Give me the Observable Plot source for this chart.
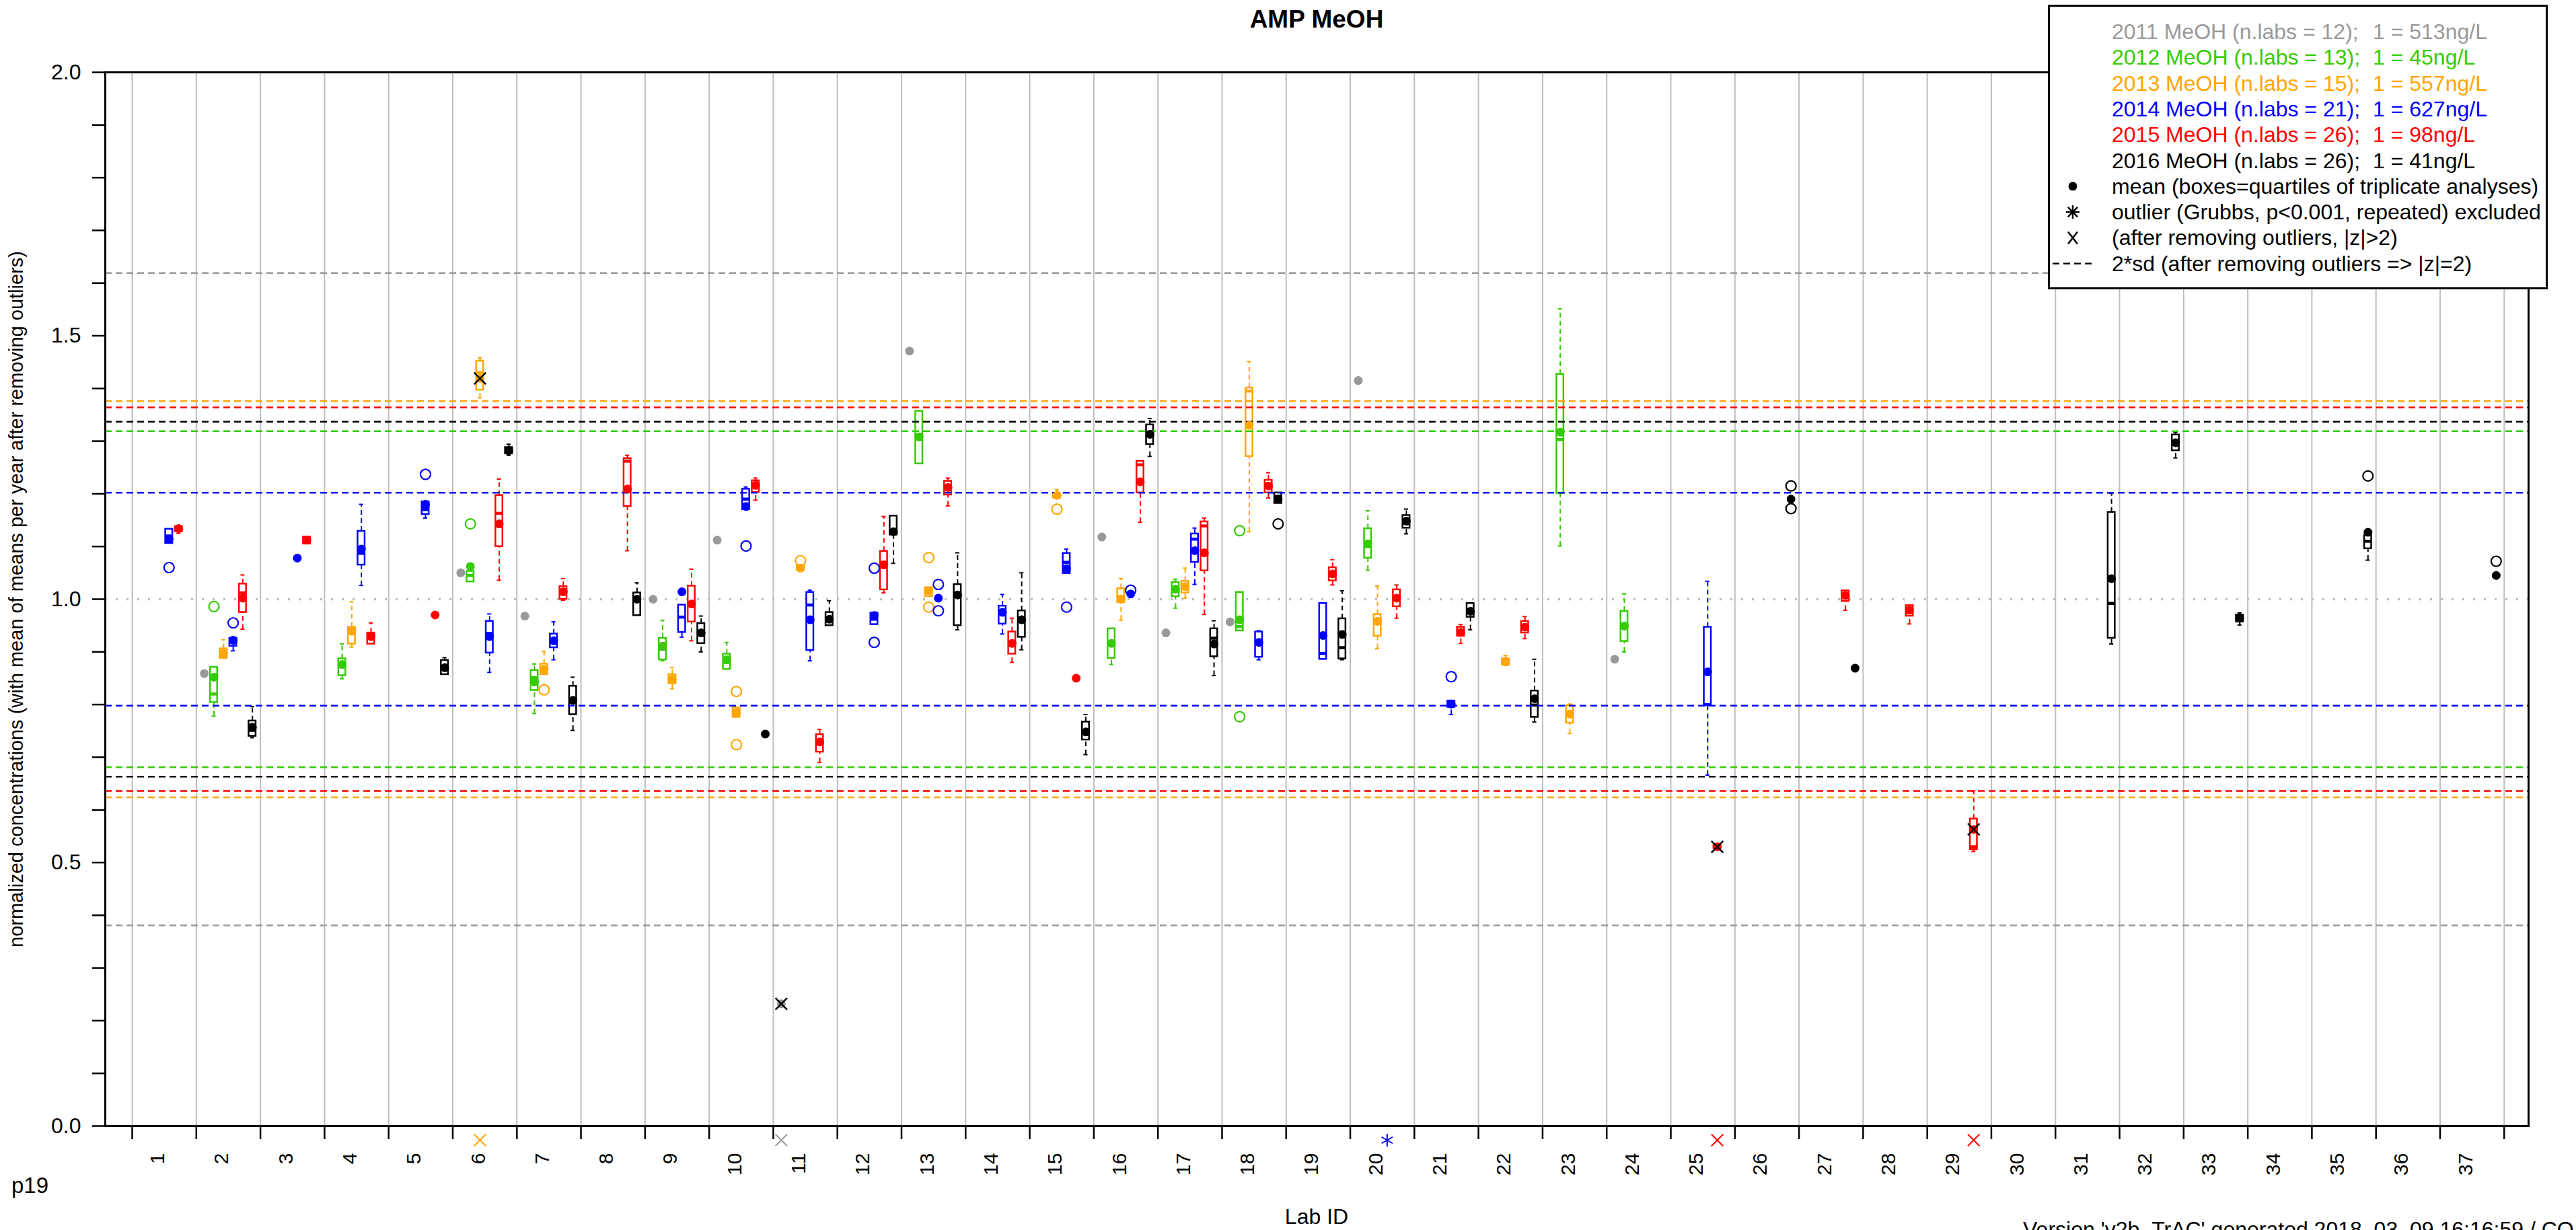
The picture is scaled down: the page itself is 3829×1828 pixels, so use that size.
<!DOCTYPE html>
<html>
<head>
<meta charset="utf-8">
<script src="https://cdn.jsdelivr.net/npm/d3@7"></script>
<script src="https://cdn.jsdelivr.net/npm/@observablehq/plot@0.6"></script>
<style>
  body { margin: 0; background: white; }
  #wrap { position: relative; width: 3829px; height: 1828px; overflow: hidden; background: white;
          font-family: "Liberation Sans", Arial, Helvetica, sans-serif; }
  #wrap svg { position: absolute; left: 0; top: 0; }
  g[aria-label="y-axis tick"], g[aria-label="x-axis tick"] { stroke-width: 2.5px; }
  .abs { position: absolute; white-space: pre; }
</style>
</head>
<body>
<div id="wrap"></div>
<script>
// ---------------- data ----------------
const years = [2011, 2012, 2013, 2014, 2015, 2016];
const yearColors = ["#999999", "#33cc00", "#ffa500", "#0000ff", "#ff0000", "#000000"];
const nLabs = [12, 13, 15, 21, 26, 26];
const unitText = ["513ng/L", "45ng/L", "557ng/L", "627ng/L", "98ng/L", "41ng/L"];
// half width of the 2*sd band around 1 for each year
const sdHalf = [0.619, 0.319, 0.376, 0.202, 0.364, 0.337];
const labIds = d3.range(1, 38);
const yTicks = d3.range(0, 21).map(i => i / 10);

// rows: [lab, mean, whiskerLow, q1, median, q3, whiskerHigh]  (only [lab, mean] when no box)
const y2011 = [[2,0.859],[6,1.050],[7,0.968],[9,1.000],[10,1.112],[11,0.232],[13,1.471],[16,1.118],[17,0.936],[18,0.957],[20,1.415],[24,0.886]];
const y2012 = [
  [2,0.852,0.778,0.804,0.820,0.871,0.871],[4,0.876,0.849,0.855,0.878,0.887,0.915],
  [6,1.062,1.033,1.033,1.045,1.053,1.053],[7,0.843,0.783,0.827,0.851,0.865,0.877],
  [9,0.911,0.883,0.885,0.905,0.926,0.960],[10,0.885,0.867,0.867,0.880,0.896,0.918],
  [13,1.308,1.257,1.257,1.310,1.357,1.357],[16,0.916,0.876,0.888,0.915,0.944,0.944],
  [17,1.019,0.983,1.005,1.020,1.032,1.038],[18,0.961,0.940,0.940,0.948,1.013,1.013],
  [20,1.105,1.055,1.078,1.100,1.134,1.168],[23,1.317,1.101,1.201,1.303,1.427,1.551],
  [24,0.949,0.900,0.920,0.950,0.977,1.010]];
const y2013 = [
  [2,0.897,0.888,0.888,0.897,0.906,0.923],[4,0.939,0.909,0.915,0.940,0.947,0.995],
  [6,1.419,1.382,1.397,1.430,1.452,1.458],[7,0.867,0.857,0.857,0.868,0.877,0.901],
  [9,0.848,0.830,0.840,0.848,0.857,0.870],[10,0.785,0.776,0.776,0.785,0.794,0.794],
  [11,1.059,1.055,1.055,1.059,1.063,1.063],[13,1.016,1.005,1.005,1.016,1.022,1.022],
  [15,1.197,1.192,1.192,1.197,1.200,1.208],[16,1.000,0.960,0.994,1.005,1.020,1.039],
  [17,1.024,1.002,1.012,1.024,1.034,1.059],[18,1.330,1.128,1.271,1.395,1.401,1.451],
  [20,0.958,0.906,0.930,0.955,0.971,1.025],[22,0.881,0.875,0.875,0.881,0.887,0.893],
  [23,0.782,0.745,0.765,0.782,0.798,0.801]];
const y2014 = [
  [1,1.114,1.106,1.106,1.120,1.133,1.133],[2,0.922,0.902,0.911,0.918,0.926,0.926],
  [3,1.078],[4,1.095,1.026,1.065,1.087,1.129,1.180],
  [5,1.180,1.154,1.161,1.170,1.185,1.185],[6,0.929,0.861,0.898,0.935,0.958,0.972],
  [7,0.921,0.885,0.908,0.921,0.934,0.957],[9,1.014,0.928,0.937,0.966,0.989,0.989],
  [10,1.176,1.170,1.170,1.190,1.209,1.213],[11,0.961,0.883,0.903,0.989,1.013,1.017],
  [12,0.969,0.952,0.952,0.962,0.974,0.974],[13,1.002],
  [14,0.975,0.934,0.953,0.975,0.987,1.009],[15,1.058,1.049,1.049,1.070,1.087,1.095],
  [16,1.010],[17,1.092,1.028,1.070,1.114,1.124,1.135],
  [18,0.918,0.885,0.890,0.920,0.938,0.940],[19,0.931,0.886,0.886,0.897,0.992,0.992],
  [21,0.801,0.781,0.795,0.801,0.807,0.807],[25,0.862,0.666,0.799,0.800,0.947,1.034]];
const y2015 = [
  [1,1.134,1.125,1.128,1.134,1.138,1.138],[2,1.002,0.943,0.975,1.012,1.029,1.046],
  [3,1.112,1.105,1.105,1.112,1.118,1.118],[4,0.929,0.915,0.915,0.929,0.936,0.955],
  [5,0.970],[6,1.143,1.036,1.100,1.163,1.197,1.228],
  [7,1.014,0.998,1.000,1.014,1.024,1.039],[8,1.209,1.092,1.176,1.262,1.267,1.273],
  [9,0.991,0.921,0.957,0.990,1.025,1.057],[10,1.216,1.188,1.203,1.216,1.225,1.230],
  [11,0.729,0.690,0.710,0.729,0.743,0.753],[12,1.065,1.012,1.018,1.070,1.091,1.157],
  [13,1.212,1.177,1.198,1.212,1.224,1.230],[14,0.916,0.880,0.896,0.916,0.938,0.964],
  [15,0.850],[16,1.223,1.146,1.202,1.255,1.262,1.262],
  [17,1.088,0.971,1.054,1.139,1.147,1.154],[18,1.215,1.192,1.202,1.215,1.226,1.240],
  [19,1.048,1.027,1.035,1.050,1.060,1.075],[20,1.002,0.964,0.986,1.002,1.018,1.027],
  [21,0.937,0.916,0.930,0.937,0.947,0.952],[22,0.947,0.925,0.936,0.947,0.958,0.967],
  [25,0.530,0.527,0.527,0.530,0.533,0.535],[27,1.007,0.979,0.996,1.007,1.016,1.016],
  [28,0.979,0.953,0.968,0.979,0.988,0.988],[29,0.563,0.521,0.525,0.530,0.583,0.636]];
const y2016 = [
  [2,0.757,0.737,0.740,0.751,0.769,0.796],[5,0.870,0.857,0.857,0.870,0.884,0.889],
  [6,1.282,1.273,1.276,1.282,1.288,1.294],[7,0.808,0.751,0.781,0.808,0.835,0.852],
  [8,1.000,0.969,0.969,1.000,1.012,1.031],[9,0.936,0.900,0.916,0.936,0.954,0.968],
  [10,0.744],[11,0.962,0.950,0.950,0.958,0.975,0.997],
  [12,1.128,1.068,1.122,1.128,1.158,1.158],[13,1.008,0.942,0.950,1.008,1.028,1.088],
  [14,0.961,0.904,0.928,0.961,0.978,1.050],[15,0.748,0.705,0.733,0.748,0.767,0.781],
  [16,1.313,1.271,1.294,1.313,1.331,1.343],[17,0.915,0.855,0.891,0.926,0.944,0.959],
  [18,1.190,1.182,1.182,1.195,1.202,1.202],[19,0.933,0.885,0.887,0.908,0.963,1.016],
  [20,1.148,1.124,1.135,1.148,1.159,1.171],[21,0.977,0.942,0.966,0.977,0.992,0.992],
  [22,0.811,0.767,0.776,0.799,0.826,0.886],[26,1.190],[27,0.869],
  [31,1.039,0.915,0.926,0.992,1.165,1.201],[32,1.297,1.268,1.282,1.297,1.312,1.317],
  [33,0.964,0.951,0.957,0.964,0.970,0.974],[35,1.127,1.074,1.096,1.110,1.121,1.121],
  [37,1.045]];
// boxplot outliers (open circles): [lab, value]
const out2011 = [];
const out2012 = [[2,0.986],[6,1.143],[18,1.130],[18,0.777]];
const out2013 = [[7,0.828],[10,0.825],[10,0.724],[11,1.073],[13,1.079],[13,0.985],[15,1.171]];
const out2014 = [[1,1.060],[2,0.955],[5,1.237],[10,1.101],[12,1.059],[12,0.918],[13,1.028],[13,0.978],[15,0.985],[16,1.017],[21,0.853]];
const out2015 = [];
const out2016 = [[18,1.143],[26,1.215],[26,1.172],[35,1.234],[37,1.072]];
// |z|>2 after removing outliers: [year, lab]
const zFlagged = [[2013,6],[2011,11],[2015,25],[2015,29]];
// Grubbs outliers excluded: [year, lab]
const grubbsExcluded = [[2014,20]];

// ---------------- build ----------------
const seriesRows = [y2011, y2012, y2013, y2014, y2015, y2016];
const outRows = [out2011, out2012, out2013, out2014, out2015, out2016];
const offset = yi => (yi - 2.5) * 0.15;
const all = [];
seriesRows.forEach((rows, yi) => rows.forEach(r => {
  const d = {year: years[yi], lab: r[0], x: r[0] + offset(yi), mean: r[1]};
  if (r.length > 2) Object.assign(d, {lo: r[2], q1: r[3], med: r[4], q3: r[5], hi: r[6]});
  all.push(d);
}));
const boxed = all.filter(d => d.q1 !== undefined);
const outs = [];
outRows.forEach((rows, yi) => rows.forEach(r => outs.push({year: years[yi], x: r[0] + offset(yi), v: r[1]})));
const flagged = zFlagged.map(([yr, lab]) => {
  const yi = years.indexOf(yr);
  return {year: yr, x: lab + offset(yi), mean: all.find(d => d.year === yr && d.lab === lab).mean};
});
const excluded = grubbsExcluded.map(([yr, lab]) => ({year: yr, x: lab + offset(years.indexOf(yr))}));
const sdLines = [];
years.forEach((yr, yi) => { sdLines.push({year: yr, v: 1 + sdHalf[yi]}); sdLines.push({year: yr, v: 1 - sdHalf[yi]}); });
const gridX = d3.range(0, 38).map(k => k + 0.5);
const halfBox = 0.055, halfCap = 0.032;

const yLabel = "normalized concentrations (with mean of means per year after removing outliers)";

const chart = Plot.plot({
  width: 3829, height: 1828,
  marginLeft: 156, marginRight: 71, marginTop: 107, marginBottom: 155,
  style: {fontFamily: "Liberation Sans, Arial, sans-serif", fontSize: "32px", background: "white", color: "black"},
  x: {domain: [0.08, 37.88], ticks: gridX, tickSize: 20, tickFormat: () => "", label: null},
  y: {domain: [0, 2], ticks: yTicks, tickSize: 19, tickPadding: 17, label: null,
      tickFormat: d => (Math.round(d * 10) % 5 === 0 ? d.toFixed(1) : "")},
  color: {domain: years, range: yearColors},
  marks: [
    Plot.ruleX(gridX, {x: d => d, stroke: "#bebebe", strokeWidth: 2}),
    Plot.ruleY([1], {y: d => d, stroke: "#bebebe", strokeWidth: 3.5, strokeDasharray: "3,13"}),
    // whiskers
    Plot.ruleX(boxed.filter(d => d.hi > d.q3), {x: "x", y1: "q3", y2: "hi", stroke: "year", strokeWidth: 2, strokeDasharray: "7,5"}),
    Plot.ruleX(boxed.filter(d => d.lo < d.q1), {x: "x", y1: "lo", y2: "q1", stroke: "year", strokeWidth: 2, strokeDasharray: "7,5"}),
    Plot.ruleY(boxed.filter(d => d.hi > d.q3), {x1: d => d.x - halfCap, x2: d => d.x + halfCap, y: "hi", stroke: "year", strokeWidth: 2}),
    Plot.ruleY(boxed.filter(d => d.lo < d.q1), {x1: d => d.x - halfCap, x2: d => d.x + halfCap, y: "lo", stroke: "year", strokeWidth: 2}),
    // boxes
    Plot.rect(boxed, {x1: d => d.x - halfBox, x2: d => d.x + halfBox, y1: "q1", y2: "q3", fill: "white", stroke: "year", strokeWidth: 2.5}),
    Plot.ruleY(boxed, {x1: d => d.x - halfBox, x2: d => d.x + halfBox, y: "med", stroke: "year", strokeWidth: 4.5}),
    // 2*sd lines
    Plot.ruleY(sdLines, {y: "v", stroke: "year", strokeWidth: 2.5, strokeDasharray: "10,6"}),
    // means
    Plot.dot(all, {x: "x", y: "mean", fill: "year", r: 6.5, stroke: "none"}),
    // boxplot outliers
    Plot.dot(outs, {x: "x", y: "v", stroke: "year", fill: "none", r: 7.5, strokeWidth: 2.2}),
    // |z|>2 marks
    Plot.dot(flagged, {x: "x", y: "mean", symbol: "times", stroke: "black", r: 8, strokeWidth: 2.5}),
    Plot.dot(flagged, {x: "x", frameAnchor: "bottom", dy: 21, symbol: "times", stroke: "year", r: 8, strokeWidth: 2}),
    Plot.dot(excluded, {x: "x", frameAnchor: "bottom", dy: 21, symbol: "asterisk", stroke: "year", r: 9, strokeWidth: 2}),
    Plot.frame({stroke: "black", strokeWidth: 3}),
    // lab id labels
    Plot.text(labIds, {x: d => d, text: d => String(d), frameAnchor: "bottom", dy: 40, rotate: -90, textAnchor: "end", fontSize: 30, fill: "black"}),
    Plot.text([yLabel], {text: d => d, frameAnchor: "left", dx: -132, rotate: -90, textAnchor: "middle", fontSize: 29, fill: "black"})
  ]
});
const wrap = document.getElementById("wrap");
wrap.appendChild(chart);

function addDiv(text, css) {
  const el = document.createElement("div");
  el.className = "abs";
  el.textContent = text;
  Object.assign(el.style, css);
  wrap.appendChild(el);
  return el;
}
// title
addDiv("AMP MeOH", {left: "1957px", top: "8px", transform: "translateX(-50%)", fontWeight: "bold", fontSize: "37px", lineHeight: "42px"});
// x title, p19, version
addDiv("Lab ID", {left: "1957px", top: "1790px", transform: "translateX(-50%)", fontSize: "32px", lineHeight: "36px"});
addDiv("p19", {left: "17px", top: "1744px", fontSize: "33px", lineHeight: "36px"});
addDiv("Version 'v2b_TrAC' generated 2018_03_09 16:16:59 / CO", {left: "3007px", top: "1811px", fontSize: "32px", lineHeight: "32px"});

// legend
const leg = document.createElement("div");
Object.assign(leg.style, {position: "absolute", left: "3044px", top: "7px", width: "743px", height: "423px",
  border: "3px solid black", background: "white", boxSizing: "border-box"});
wrap.appendChild(leg);
const rowY = i => 47 + 38.3 * i;
years.forEach((yr, i) => {
  addDiv(`${yr} MeOH (n.labs = ${nLabs[i]});`, {left: "3139px", top: (rowY(i) - 19) + "px", fontSize: "32px", lineHeight: "38px", color: yearColors[i]});
  addDiv(`1 = ${unitText[i]}`, {left: "3527px", top: (rowY(i) - 19) + "px", fontSize: "32px", lineHeight: "38px", color: yearColors[i]});
});
const extra = ["mean (boxes=quartiles of triplicate analyses)", "outlier (Grubbs, p<0.001, repeated) excluded",
  "(after removing outliers, |z|>2)", "2*sd (after removing outliers => |z|=2)"];
extra.forEach((t, j) => addDiv(t, {left: "3139px", top: (rowY(6 + j) - 19) + "px", fontSize: "32px", lineHeight: "38px"}));
// legend symbols
const ns = "http://www.w3.org/2000/svg";
const sym = document.createElementNS(ns, "svg");
sym.setAttribute("width", 3829); sym.setAttribute("height", 1828);
sym.style.pointerEvents = "none";
wrap.appendChild(sym);
function line(x1, y1, x2, y2, extraAttr = {}) {
  const l = document.createElementNS(ns, "line");
  Object.entries({x1, y1, x2, y2, stroke: "black", "stroke-width": 2.5, ...extraAttr}).forEach(([k, v]) => l.setAttribute(k, v));
  sym.appendChild(l);
}
const sx = 3081;
const c = document.createElementNS(ns, "circle");
c.setAttribute("cx", sx); c.setAttribute("cy", rowY(6)); c.setAttribute("r", 6.5); c.setAttribute("fill", "black");
sym.appendChild(c);
const a = 10;
line(sx, rowY(7) - a, sx, rowY(7) + a);
line(sx - a, rowY(7), sx + a, rowY(7));
line(sx - a * 0.72, rowY(7) - a * 0.72, sx + a * 0.72, rowY(7) + a * 0.72);
line(sx - a * 0.72, rowY(7) + a * 0.72, sx + a * 0.72, rowY(7) - a * 0.72);
line(sx - 7, rowY(8) - 9, sx + 7, rowY(8) + 9);
line(sx - 7, rowY(8) + 9, sx + 7, rowY(8) - 9);
line(3051, rowY(9), 3110, rowY(9), {"stroke-dasharray": "10,6"});
</script>
</body>
</html>
